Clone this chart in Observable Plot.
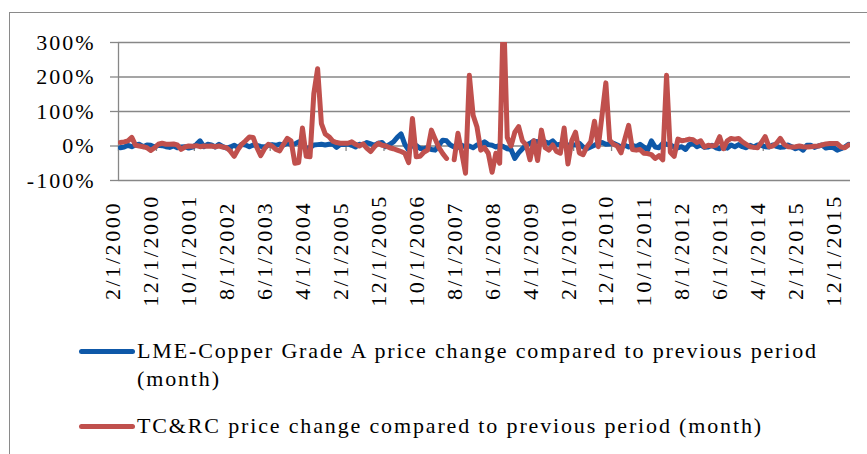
<!DOCTYPE html>
<html>
<head>
<meta charset="utf-8">
<script src="https://cdn.jsdelivr.net/npm/d3@7"></script>
<script src="https://cdn.jsdelivr.net/npm/@observablehq/plot@0.6"></script>
<style>
  html, body { margin: 0; padding: 0; background: #fff; overflow: hidden; width: 867px; height: 454px; }
  #wrap { position: relative; width: 867px; height: 454px; }
  #frame { position: absolute; left: 9px; top: 12px; width: 900px; height: 500px; border: 1px solid #8a8a8a; box-sizing: border-box; }
  #chart { position: absolute; left: 0; top: 0; }
  .sw { position: absolute; left: 79px; width: 56px; height: 5px; border-radius: 3px; }
  .lt { position: absolute; left: 137px; font-family: "Liberation Serif", serif; font-size: 22px; line-height: 28px; letter-spacing: 1.85px; color: #000; white-space: nowrap; }
</style>
</head>
<body>
<div id="wrap">
  <div id="frame"></div>
  <div id="chart"></div>
  <div class="sw" id="sw1"></div>
  <div class="lt" id="lt1"></div>
  <div class="sw" id="sw2"></div>
  <div class="lt" id="lt2"></div>
</div>
<script>
// ---- data ----
const seriesNames = [
  "LME-Copper Grade A price change compared to previous period (month)",
  "TC&RC price change compared to previous period (month)"
];
const seriesColors = ["#0e58a8", "#c0504d"];

// monthly categories, 2/1/2000 ... 2/1/2016
const months = [];
for (let k = 0; k < 193; k++) {
  const t = 1 + k;
  months.push(`${(t % 12) + 1}/1/${2000 + Math.floor(t / 12)}`);
}

const tickLabels = ["2/1/2000","12/1/2000","10/1/2001","8/1/2002","6/1/2003","4/1/2004","2/1/2005","12/1/2005","10/1/2006","8/1/2007","6/1/2008","4/1/2009","2/1/2010","12/1/2010","10/1/2011","8/1/2012","6/1/2013","4/1/2014","2/1/2015","12/1/2015"];
const yTicks = [-100, 0, 100, 200, 300];

// LME copper monthly change (%)
const lme = [
  -5,-3,2,-2,3,5,-2,3,2,-3,
  2,1,-2,-4,0,-5,-3,-2,-6,-3,
  4,15,-2,5,3,-3,5,-2,-6,-3,
  2,-4,5,3,-2,3,2,-1,-3,2,
  4,2,5,3,8,5,6,12,4,-8,
  -5,3,4,5,3,5,6,-4,5,4,
  6,2,-3,5,4,10,6,2,8,10,
  -2,5,12,25,35,5,-12,5,2,-7,
  -8,-5,-10,-12,3,17,15,3,-3,-4,
  2,-3,0,-5,3,5,12,4,2,-3,
  2,-2,-8,-10,-36,-20,-8,3,8,15,
  12,17,12,8,15,3,5,8,2,4,
  3,8,-3,-8,-3,2,8,10,5,6,
  8,3,-3,2,-3,2,-2,5,-3,-12,
  15,-3,-5,8,5,3,-3,-5,-2,-10,
  4,8,-2,3,-4,-3,2,-5,-8,2,
  -6,3,-2,4,-2,-5,2,-3,3,2,
  -2,-3,3,-1,-4,-3,3,-2,-8,-4,
  -12,2,2,-4,0,3,-6,-4,-5,-12,
  -8,-3,5
];

// TC&RC monthly change (%), null = missing month
const tcrc = [
  10,12,15,25,2,0,-2,-5,-13,-5,
  5,8,5,5,6,3,-10,-3,0,-1,
  1,-2,0,-1,0,-2,0,-3,-5,-15,
  -30,-10,5,15,26,25,-5,-28,-8,5,
  0,-10,-14,5,22,15,-50,-48,52,-30,
  -31,152,224,65,35,27,14,10,8,8,
  8,12,5,0,6,-7,-16,-2,8,2,
  0,-5,-8,-12,-16,-21,-48,80,-31,-30,
  -18,-12,46,20,-5,-22,-36,null,-40,37,
  -20,-79,205,89,56,-12,-5,-21,-76,-21,
  -50,400,25,0,40,56,15,3,-40,15,
  -42,46,-5,-12,3,-16,-21,52,-52,15,
  40,-20,-25,-2,12,72,-2,90,183,17,
  5,0,-20,20,60,-10,-12,-10,-21,-22,
  -25,-36,-28,-40,205,-18,-30,20,15,17,
  20,18,10,15,-3,2,0,2,27,-8,
  15,22,20,22,12,5,-2,-4,-5,10,
  27,-2,0,8,22,5,-2,-3,-2,0,
  -2,-3,-2,-1,0,3,6,7,7,7,
  -3,-5,3
];

// ---- build ----
const rows = months.map((m, i) => ({i, m, lme: lme[i], tcrc: tcrc[i]}));
const tickIdx = tickLabels.map(l => months.indexOf(l));
const grey = "#878787";

const plot = Plot.plot({
  width: 867,
  height: 330,
  marginLeft: 118,
  marginRight: 17,
  marginTop: 42,
  marginBottom: 150,
  x: {type: "linear", domain: [-0.5, months.length - 0.5], axis: null},
  y: {domain: [-100, 300], axis: null},
  style: {fontFamily: "'Liberation Serif', serif", fontSize: "22px", color: "#000", background: "transparent", overflow: "visible", letterSpacing: "2px"},
  marks: [
    Plot.ruleY(yTicks, {stroke: grey, strokeWidth: 1.3}),
    Plot.ruleX([-0.5], {y1: -100, y2: 300, stroke: grey, strokeWidth: 1.3}),
    Plot.ruleX(tickIdx, {x: d => d - 0.5, y1: 0, y2: -16, stroke: grey, strokeWidth: 1.3}),
    Plot.axisY({ticks: yTicks, tickSize: 8, tickPadding: 15, tickFormat: d => d + "%", stroke: grey, strokeWidth: 1.3, fill: "#000", fontSize: 22, label: null}),
    Plot.line(rows, {x: "i", y: "lme", stroke: seriesColors[0], strokeWidth: 5, strokeLinejoin: "round", strokeLinecap: "round", clip: true}),
    Plot.line(rows, {x: "i", y: "tcrc", stroke: seriesColors[1], strokeWidth: 5, strokeLinejoin: "round", strokeLinecap: "round", clip: true}),
    Plot.text(tickIdx, {x: d => d, frameAnchor: "bottom", text: d => months[d], rotate: -90, textAnchor: "middle", dy: 70, fontSize: 22, fill: "#000"})
  ]
});

d3.select(plot).selectAll("text").filter(function() { return this.textContent.includes("/1/"); }).style("letter-spacing", "2.6px");
document.getElementById("chart").appendChild(plot);

// legend
const sw1 = document.getElementById("sw1"), sw2 = document.getElementById("sw2");
sw1.style.background = seriesColors[0]; sw1.style.top = "349px";
sw2.style.background = seriesColors[1]; sw2.style.top = "424px";
const lt1 = document.getElementById("lt1"), lt2 = document.getElementById("lt2");
const cut = seriesNames[0].lastIndexOf(" (");
lt1.innerHTML = "";
lt1.append(seriesNames[0].slice(0, cut));
lt1.appendChild(document.createElement("br"));
lt1.append(seriesNames[0].slice(cut + 1));
lt1.style.top = "337px";
lt2.textContent = seriesNames[1];
lt2.style.top = "412px";
</script>
</body>
</html>
